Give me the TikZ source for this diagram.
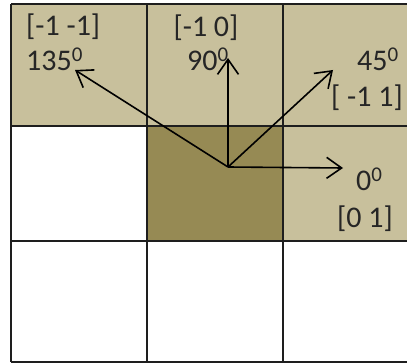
\documentclass[tikz,border=0pt]{standalone}
\usepackage{fontspec}
\setmainfont{Carlito}
\usetikzlibrary{arrows.meta}
\definecolor{tan}{RGB}{200,192,156}
\definecolor{olive}{RGB}{150,138,84}
\definecolor{gridc}{RGB}{30,30,30}
\begin{document}
\begin{tikzpicture}[x=1pt,y=-1pt,
  lbl/.style={anchor=base west,inner sep=0pt,font=\fontsize{30}{34}\selectfont,text=black!85},
  vec/.style={line width=1.6pt,-{Straight Barb[length=15pt,width=21pt,line width=1.6pt]}},
  gridline/.style={line width=1.5pt,draw=gridc}]
\useasboundingbox (0,0) rectangle (407,363);
\fill[white] (0,0) rectangle (407,363);
% fills
\fill[tan] (11,4) rectangle (407,126);
\fill[tan] (283,126) rectangle (407,241);
\fill[olive] (147,126) rectangle (283,241);
% grid
\draw[gridline] (11,4) -- (407,4);
\draw[gridline] (11,126) -- (407,126);
\draw[gridline] (11,241) -- (407,241);
\draw[gridline] (11,362) -- (407,362);
\draw[gridline] (11,4) -- (11,362);
\draw[gridline] (147,4) -- (147,362);
\draw[gridline] (283,4) -- (283,362);
% labels
\node[lbl] (l135a) at (26,36) {[-1 -1]};
\node[lbl] (l135b) at (26,71) {135\textsuperscript{0}};
\node[lbl,anchor=base] (l90a) at (206,37) {[-1 0]};
\node[lbl] (l90b) at (187,71) {90\textsuperscript{0}};
\node[lbl] (l45a) at (357,71) {45\textsuperscript{0}};
\node[lbl] (l45b) at (331,107) {[ -1 1]};
\node[lbl] (l0a) at (356,191) {0\textsuperscript{0}};
\node[lbl] (l0b) at (337,228) {[0 1]};
% vectors
\coordinate (o) at (228,167);
\coordinate (t135) at (75,70);
\coordinate (t90) at (228,58);
\coordinate (t45) at (333,70);
\coordinate (t0) at (343,168);
\draw[vec] (o) -- (t135);
\draw[vec] (o) -- (t90);
\draw[vec] (o) -- (t45);
\draw[vec] (o) -- (t0);
\end{tikzpicture}
\end{document}
